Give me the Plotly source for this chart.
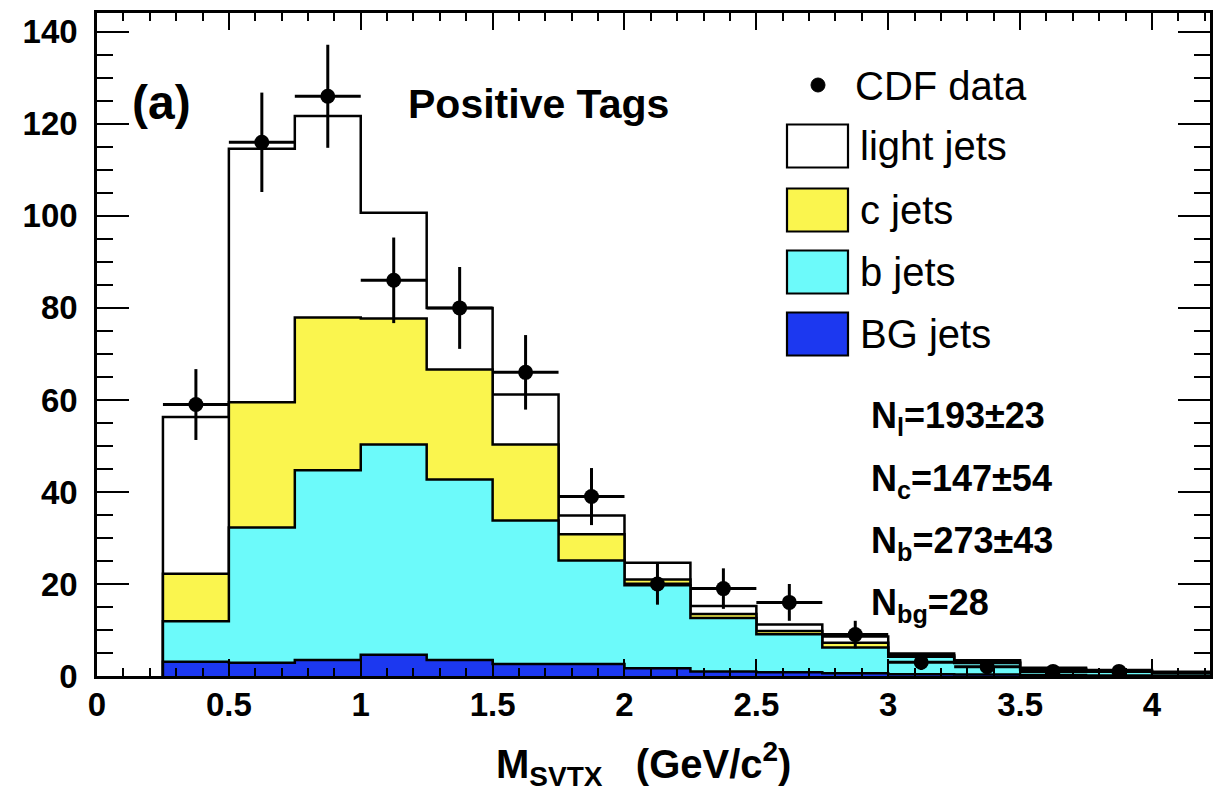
import plotly.graph_objects as go

# ---------------- data ----------------
bin_edges = [0.25, 0.5, 0.75, 1.0, 1.25, 1.5, 1.75, 2.0, 2.25, 2.5, 2.75,
             3.0, 3.25, 3.5, 3.75, 4.0, 4.25]
light_jets = [34.1, 55.1, 43.8, 23.0, 13.4, 10.9, 4.1, 3.6, 1.7, 1.4, 1.4, 0.4, 0.3, 0.2, 0.2, 0.1]
c_jets = [10.3, 27.2, 33.2, 27.4, 23.9, 16.5, 5.7, 1.3, 0.9, 0.7, 1.0, 0.3, 0.3, 0.2, 0.1, 0.1]
b_jets = [8.8, 29.4, 41.2, 45.7, 39.2, 31.2, 22.5, 18.0, 11.6, 8.3, 5.6, 3.8, 2.5, 1.2, 0.9, 0.6]
bg_jets = [3.1, 2.9, 3.5, 4.6, 3.5, 2.6, 2.6, 1.7, 1.0, 0.8, 0.6, 0.4, 0.3, 0.2, 0.1, 0.1]

data_x = [0.375, 0.625, 0.875, 1.125, 1.375, 1.625, 1.875, 2.125, 2.375, 2.625,
          2.875, 3.125, 3.375, 3.625, 3.875]
data_y = [59, 116, 126, 86, 80, 66, 39, 20, 19, 16, 9, 3, 2, 1, 1]
data_err = [7.7, 10.8, 11.2, 9.3, 8.9, 8.1, 6.2, 4.5, 4.4, 4.0, 3.0, 1.7, 1.4, 1.0, 1.0]

x_ticks = [0, 0.5, 1, 1.5, 2, 2.5, 3, 3.5, 4]
y_ticks = [0, 20, 40, 60, 80, 100, 120, 140]

legend_labels = ["CDF data", "light jets", "c jets", "b jets", "BG jets"]
fit_labels = ["N<sub>l</sub>=193±23", "N<sub>c</sub>=147±54",
              "N<sub>b</sub>=273±43", "N<sub>bg</sub>=28"]

# ---------------- styling ----------------
FONT = "Liberation Sans"
COL_WHITE = "#ffffff"
COL_YELLOW = "#faf54e"
COL_CYAN = "#6cfafa"
COL_BLUE = "#1c38f0"


def cumulate(*series):
    return [sum(v) for v in zip(*series)]


stack_bg = cumulate(bg_jets)
stack_b = cumulate(bg_jets, b_jets)
stack_c = cumulate(bg_jets, b_jets, c_jets)
stack_all = cumulate(bg_jets, b_jets, c_jets, light_jets)


def step_xy(edges, vals):
    n = len(vals)
    xs = [edges[0]] + list(edges[:n]) + [edges[n], edges[n]]
    ys = [0] + list(vals) + [vals[-1], 0]
    return xs, ys


fig = go.Figure()
for name, vals, col in [("light jets", stack_all, COL_WHITE),
                        ("c jets", stack_c, COL_YELLOW),
                        ("b jets", stack_b, COL_CYAN),
                        ("BG jets", stack_bg, COL_BLUE)]:
    xs, ys = step_xy(bin_edges, vals)
    fig.add_trace(go.Scatter(
        x=xs, y=ys, mode="lines", name=name,
        line=dict(shape="hv", color="black", width=2.5),
        fill="tozeroy", fillcolor=col, showlegend=False, hoverinfo="skip"))

half_w = (bin_edges[1] - bin_edges[0]) / 2
fig.add_trace(go.Scatter(
    x=data_x, y=data_y, mode="markers", name="CDF data",
    marker=dict(color="black", size=15),
    error_y=dict(type="data", array=data_err, color="black", thickness=3, width=0),
    error_x=dict(type="constant", value=half_w, color="black", thickness=3, width=0),
    showlegend=False))

# ---------------- layout ----------------
# the page body adds an 8px margin, so the figure is placed 8px in from the top-left
OFF = 8
W, H = 1222 - OFF, 792 - OFF
ML, MR, MT, MB = 97 - OFF, 12, 13 - OFF, 116
PW, PH = W - ML - MR, H - MT - MB


def px(xs):  # screen x -> paper
    return (xs - OFF - ML) / PW


def py(ys):  # screen y -> paper
    return (H - MB - (ys - OFF)) / PH


axis_common = dict(
    showline=True, linecolor="black", linewidth=2.5, mirror="ticks",
    ticks="inside", tickcolor="black", tickwidth=2.2,
    showgrid=False, zeroline=False, automargin=False,
    tickfont=dict(family=FONT, size=33, color="black", weight="bold"),
)

fig.update_layout(
    width=W, height=H,
    margin=dict(l=ML, r=MR, t=MT, b=MB, autoexpand=False),
    paper_bgcolor="white", plot_bgcolor="white",
    showlegend=False,
    xaxis=dict(range=[0, 4.22], tickvals=x_ticks, ticklen=17,
               ticklabelstandoff=-2,
               minor=dict(dtick=0.1, ticklen=8, ticks="inside",
                          tickcolor="black", tickwidth=2),
               **axis_common),
    yaxis=dict(range=[0, 144.1], tickvals=y_ticks, ticklen=32,
               ticklabelstandoff=10,
               minor=dict(dtick=5, ticklen=16, ticks="inside",
                          tickcolor="black", tickwidth=2),
               **axis_common),
)

annotations = []
shapes = []

# panel label and title
annotations.append(dict(text="<b>(a)</b>", x=px(161), y=py(103), xref="paper", yref="paper",
                        showarrow=False, font=dict(family=FONT, size=48, color="black"),
                        xanchor="center", yanchor="middle"))
annotations.append(dict(text="<b>Positive Tags</b>", x=px(538), y=py(104), xref="paper", yref="paper",
                        showarrow=False, font=dict(family=FONT, size=41, color="black"),
                        xanchor="center", yanchor="middle"))

# legend (drawn manually)
shapes.append(dict(type="circle", xref="paper", yref="paper",
                   x0=px(811), x1=px(825), y0=py(92), y1=py(78),
                   fillcolor="black", line=dict(color="black", width=1)))
annotations.append(dict(text=legend_labels[0], x=px(853), y=py(86), xref="paper", yref="paper",
                        showarrow=False, font=dict(family=FONT, size=40, color="black"),
                        xanchor="left", yanchor="middle"))
row_centers = [146, 210, 272, 334]
row_colors = [COL_WHITE, COL_YELLOW, COL_CYAN, COL_BLUE]
for lab, yc, col in zip(legend_labels[1:], row_centers, row_colors):
    shapes.append(dict(type="rect", xref="paper", yref="paper",
                       x0=px(787), x1=px(848), y0=py(yc + 21.5), y1=py(yc - 21.5),
                       fillcolor=col, line=dict(color="black", width=2.2)))
    annotations.append(dict(text=lab, x=px(858), y=py(yc), xref="paper", yref="paper",
                            showarrow=False, font=dict(family=FONT, size=40, color="black"),
                            xanchor="left", yanchor="middle"))

# fit results
for lab, yc in zip(fit_labels, [418, 481, 543, 605]):
    annotations.append(dict(text="<b>" + lab + "</b>", x=px(869), y=py(yc), xref="paper", yref="paper",
                            showarrow=False, font=dict(family=FONT, size=36, color="black"),
                            xanchor="left", yanchor="middle"))

# x-axis title
annotations.append(dict(text="<b>M<sub>SVTX</sub>   (GeV/c<sup>2</sup>)</b>", x=px(643), y=py(764),
                        xref="paper", yref="paper", showarrow=False,
                        font=dict(family=FONT, size=40, color="black"),
                        xanchor="center", yanchor="middle"))

fig.update_layout(annotations=annotations, shapes=shapes)

fig.write_html("out.html")
